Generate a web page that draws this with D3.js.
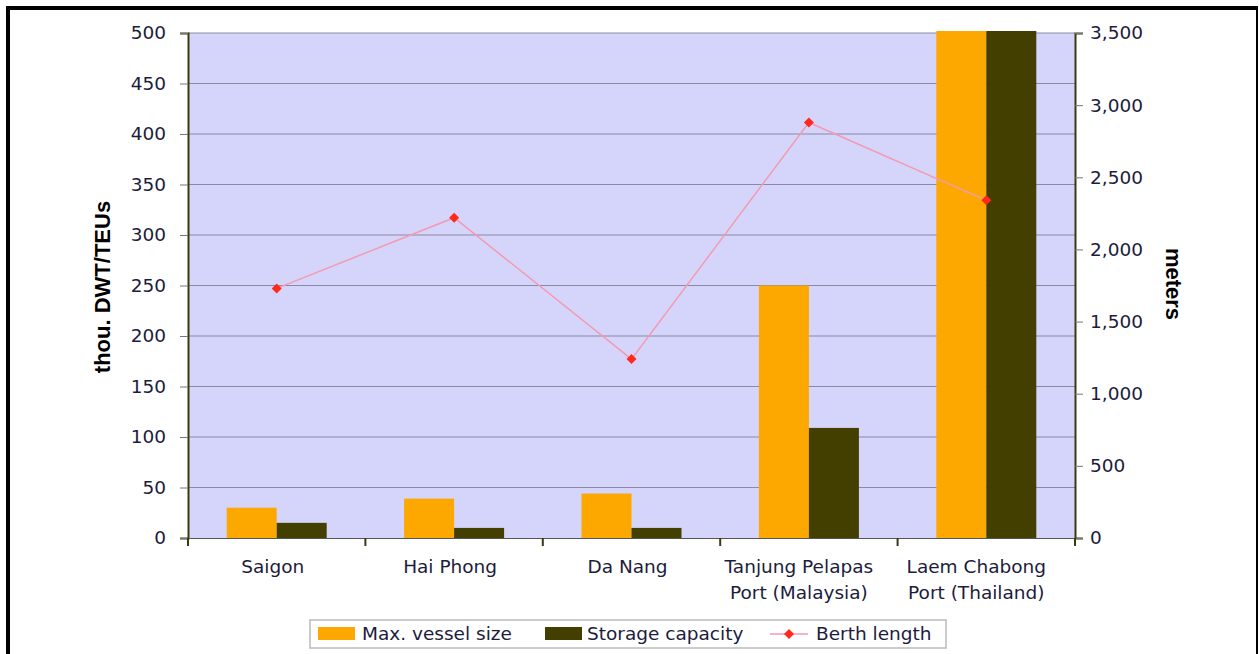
<!DOCTYPE html>
<html>
<head>
<meta charset="utf-8">
<script src="https://cdn.jsdelivr.net/npm/d3@7"></script>
<style>
  body { margin: 0; background: #fff; }
  svg { display: block; font-family: "DejaVu Sans", sans-serif; }
</style>
</head>
<body>
<svg id="chart" width="1259" height="654"></svg>
<script>
// data
const ports = ["Saigon", "Hai Phong", "Da Nang", "Tanjung Pelapas\nPort (Malaysia)", "Laem Chabong\nPort (Thailand)"];
const vesselSize = [30, 39, 44, 250, 510];      // thou. DWT
const storageCap = [15, 10, 10, 109, 510];      // thou. TEUs
const berthLength = [1730, 2220, 1240, 2880, 2340]; // meters
const leftTicks = [0, 50, 100, 150, 200, 250, 300, 350, 400, 450, 500];
const rightTicks = [0, 500, 1000, 1500, 2000, 2500, 3000, 3500];

const svg = d3.select("#chart");
const m = { left: 188, right: 1075, top: 33, bottom: 538 };
const fs = "18.5px";

// outer frame
svg.append("rect").attr("x", 8).attr("y", 8).attr("width", 1249).attr("height", 660)
    .attr("fill", "none").attr("stroke", "#000").attr("stroke-width", 2);
svg.append("line").attr("x1", 8).attr("x2", 1258).attr("y1", 8).attr("y2", 8)
    .attr("stroke", "#000").attr("stroke-width", 4);
svg.append("line").attr("x1", 8).attr("x2", 8).attr("y1", 6).attr("y2", 654)
    .attr("stroke", "#000").attr("stroke-width", 4);

const x = d3.scaleBand().domain(ports).range([m.left, m.right]).paddingInner(0).paddingOuter(0);
const y = d3.scaleLinear().domain([0, 500]).range([m.bottom, m.top]);
const y2 = d3.scaleLinear().domain([0, 3500]).range([m.bottom, m.top]);

// plot background
svg.append("rect").attr("x", m.left).attr("y", m.top)
    .attr("width", m.right - m.left).attr("height", m.bottom - m.top)
    .attr("fill", "#d5d5fb");

// gridlines
svg.append("g").selectAll("line").data(leftTicks.slice(1)).enter().append("line")
    .attr("x1", m.left).attr("x2", m.right)
    .attr("y1", d => y(d)).attr("y2", d => y(d))
    .attr("stroke", "#8a8aa4").attr("stroke-width", 1.2);

svg.append("clipPath").attr("id", "clip").append("rect")
    .attr("x", m.left).attr("y", m.top - 2).attr("width", m.right - m.left).attr("height", m.bottom - m.top + 2);

const barW = 50;
const bars = svg.append("g").attr("clip-path", "url(#clip)");
bars.selectAll(".v").data(vesselSize).enter().append("rect")
    .attr("x", (d, i) => x(ports[i]) + x.bandwidth() / 2 - barW)
    .attr("y", d => y(d)).attr("width", barW).attr("height", d => m.bottom - y(d))
    .attr("fill", "#fca800");
bars.selectAll(".s").data(storageCap).enter().append("rect")
    .attr("x", (d, i) => x(ports[i]) + x.bandwidth() / 2)
    .attr("y", d => y(d)).attr("width", barW).attr("height", d => m.bottom - y(d))
    .attr("fill", "#423f00");

// berth length line
const line = d3.line().x((d, i) => x(ports[i]) + x.bandwidth() / 2).y(d => y2(d));
svg.append("path").datum(berthLength).attr("d", line)
    .attr("fill", "none").attr("stroke", "#f49ab0").attr("stroke-width", 1.5);
const diamond = d3.symbol().type(d3.symbolSquare).size(50);
svg.append("g").selectAll("path").data(berthLength).enter().append("path")
    .attr("d", diamond)
    .attr("transform", (d, i) => `translate(${x(ports[i]) + x.bandwidth() / 2},${y2(d)}) rotate(45)`)
    .attr("fill", "#ff2a1a");

// axes
const axisColor = "#3a3a10";
const textColor = "#1c1c3c";
const gl = svg.append("g").attr("transform", `translate(${m.left},0)`)
    .call(d3.axisLeft(y).tickValues(leftTicks).tickSize(8).tickPadding(14).tickFormat(d3.format("d")));
const gr = svg.append("g").attr("transform", `translate(${m.right},0)`)
    .call(d3.axisRight(y2).tickValues(rightTicks).tickSize(8).tickPadding(7).tickFormat(d3.format(",")));
[gl, gr].forEach(g => {
    g.select(".domain").attr("stroke", axisColor).attr("stroke-width", 2);
    g.selectAll(".tick line").attr("stroke", "#777");
    g.selectAll("text").attr("fill", textColor).style("font-size", fs).style("font-family", "DejaVu Sans");
});

const gx = svg.append("g").attr("transform", `translate(0,${m.bottom})`)
    .call(d3.axisBottom(x).tickSize(0).tickFormat(""));
gx.select(".domain").attr("stroke", "#555").attr("stroke-width", 1.2);
const bounds = x.domain().map(d => x(d)).concat([m.right]);
gx.selectAll(".sep").data(bounds).enter().append("line")
    .attr("x1", d => d).attr("x2", d => d).attr("y1", 0).attr("y2", 8)
    .attr("stroke", axisColor).attr("stroke-width", 2);

// category labels (two-line ones sit a bit further left in the original)
const catG = svg.append("g");
ports.forEach(p => {
    const lines = p.split("\n");
    const cx = x(p) + x.bandwidth() / 2 - (lines.length > 1 ? 10 : 4);
    const t = catG.append("text").attr("x", cx).attr("y", 573)
        .attr("text-anchor", "middle").attr("fill", textColor).style("font-size", fs);
    lines.forEach((s, k) => {
        t.append("tspan").attr("x", cx).attr("dy", k ? 26 : 0).text(s);
    });
});

// axis titles
svg.append("text").attr("transform", "translate(110,287) rotate(-90)")
    .attr("text-anchor", "middle").attr("fill", "#000")
    .style("font-family", "Liberation Sans").style("font-size", "22px").style("font-weight", "bold").text("thou. DWT/TEUs");
svg.append("text").attr("transform", "translate(1166,284) rotate(90)")
    .attr("text-anchor", "middle").attr("fill", "#000")
    .style("font-family", "Liberation Sans").style("font-size", "22px").style("font-weight", "bold").text("meters");

// legend
const lg = svg.append("g");
lg.append("rect").attr("x", 310).attr("y", 620).attr("width", 636).attr("height", 28)
    .attr("fill", "#fff").attr("stroke", "#bbb").attr("stroke-width", 1.5);
lg.append("rect").attr("x", 318).attr("y", 627).attr("width", 37).attr("height", 13).attr("fill", "#fca800");
lg.append("text").attr("x", 362).attr("y", 640).attr("fill", textColor).style("font-size", fs).text("Max. vessel size");
lg.append("rect").attr("x", 545).attr("y", 627).attr("width", 37).attr("height", 13).attr("fill", "#423f00");
lg.append("text").attr("x", 587).attr("y", 640).attr("fill", textColor).style("font-size", fs).text("Storage capacity");
lg.append("line").attr("x1", 770).attr("x2", 808).attr("y1", 634).attr("y2", 634)
    .attr("stroke", "#f49ab0").attr("stroke-width", 1.5);
lg.append("path").attr("d", diamond).attr("transform", "translate(789,634) rotate(45)").attr("fill", "#ff2a1a");
lg.append("text").attr("x", 816).attr("y", 640).attr("fill", textColor).style("font-size", fs).text("Berth length");
</script>
</body>
</html>
